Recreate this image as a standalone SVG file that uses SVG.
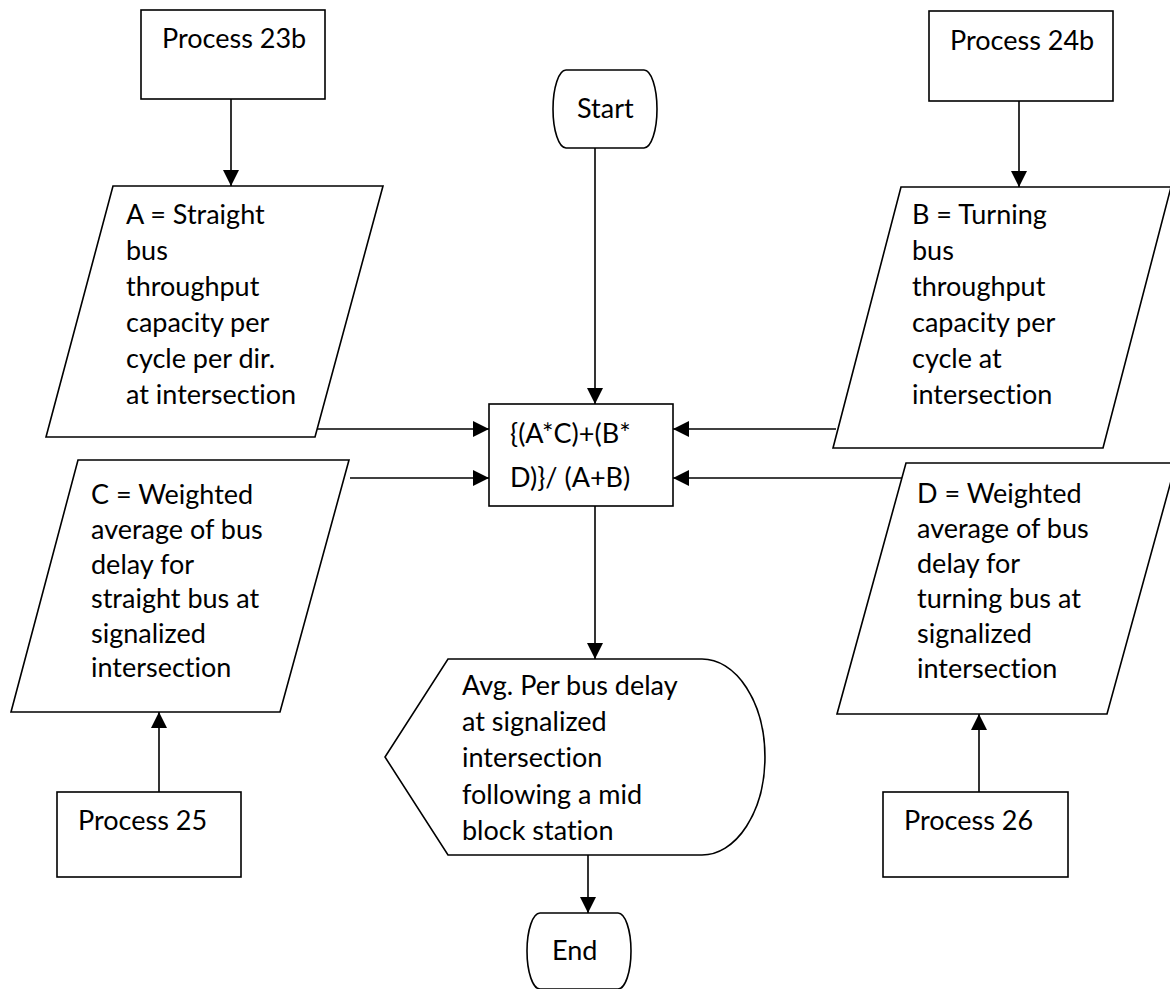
<svg xmlns="http://www.w3.org/2000/svg" width="1170" height="989" viewBox="0 0 1170 989">
  <style>
    .shape { fill: #ffffff; stroke: #000000; stroke-width: 1.6; }
    .link { fill: none; stroke: #000000; stroke-width: 1.6; marker-end: url(#arrow); }
    .label { font-family: Lato, "Liberation Sans", sans-serif; font-size: 27px; fill: #000000; font-variant-ligatures: none; }
  </style>
  <defs>
    <marker id="arrow" markerUnits="userSpaceOnUse" markerWidth="16" markerHeight="16" viewBox="0 0 16 16" refX="16" refY="8" orient="auto">
      <path d="M0,0 L16,8 L0,16 Z" fill="#000000"/>
    </marker>
  </defs>
  <rect width="1170" height="989" fill="#ffffff"/>

  <!-- connectors -->
  <g id="connectors">
    <line class="link" x1="231" y1="99" x2="231" y2="186"/>
    <line class="link" x1="1019" y1="101" x2="1019" y2="187"/>
    <line class="link" x1="595" y1="148" x2="595" y2="404"/>
    <line class="link" x1="315" y1="429" x2="489" y2="429"/>
    <line class="link" x1="350" y1="478" x2="489" y2="478"/>
    <line class="link" x1="836" y1="429" x2="673" y2="429"/>
    <line class="link" x1="902" y1="478" x2="673" y2="478"/>
    <line class="link" x1="595" y1="506" x2="595" y2="659"/>
    <line class="link" x1="588" y1="855" x2="588" y2="913"/>
    <line class="link" x1="159" y1="792" x2="159" y2="712"/>
    <line class="link" x1="979" y1="792" x2="979" y2="714"/>
  </g>

  <!-- process boxes -->
  <g id="process-23b">
    <rect class="shape" x="141" y="10" width="184" height="89"/>
    <text class="label" x="162" y="48">Process 23b</text>
  </g>
  <g id="process-24b">
    <rect class="shape" x="929" y="11" width="184" height="90"/>
    <text class="label" x="950" y="50">Process 24b</text>
  </g>
  <g id="process-25">
    <rect class="shape" x="57" y="792" width="184" height="85"/>
    <text class="label" x="78" y="830">Process 25</text>
  </g>
  <g id="process-26">
    <rect class="shape" x="883" y="792" width="185" height="85"/>
    <text class="label" x="904" y="830">Process 26</text>
  </g>

  <!-- terminators -->
  <g id="start">
    <path class="shape" d="M566,70 H644 A13,39 0 0 1 644,148 H566 A13,39 0 0 1 566,70 Z"/>
    <text class="label" x="577" y="118">Start</text>
  </g>
  <g id="end">
    <path class="shape" d="M540,913 H618 A13,38 0 0 1 618,989 H540 A13,38 0 0 1 540,913 Z"/>
    <text class="label" x="552" y="960">End</text>
  </g>

  <!-- data inputs -->
  <g id="input-a">
    <polygon class="shape" points="113,186 383,186 315,437 46,437"/>
    <text class="label" x="126" y="224">A = Straight</text>
    <text class="label" x="126" y="260">bus</text>
    <text class="label" x="126" y="296">throughput</text>
    <text class="label" x="126" y="332">capacity per</text>
    <text class="label" x="126" y="368">cycle per dir.</text>
    <text class="label" x="126" y="404">at intersection</text>
  </g>
  <g id="input-b">
    <polygon class="shape" points="901,187 1171,187 1103,448 833,448"/>
    <text class="label" x="912" y="224">B = Turning</text>
    <text class="label" x="912" y="260">bus</text>
    <text class="label" x="912" y="296">throughput</text>
    <text class="label" x="912" y="332">capacity per</text>
    <text class="label" x="912" y="368">cycle at</text>
    <text class="label" x="912" y="404">intersection</text>
  </g>
  <g id="input-c">
    <polygon class="shape" points="78,460 349,460 280,712 11,712"/>
    <text class="label" x="91" y="504">C = Weighted</text>
    <text class="label" x="91" y="539">average of bus</text>
    <text class="label" x="91" y="574">delay for</text>
    <text class="label" x="91" y="608">straight bus at</text>
    <text class="label" x="91" y="643">signalized</text>
    <text class="label" x="91" y="677">intersection</text>
  </g>
  <g id="input-d">
    <polygon class="shape" points="906,463 1176,463 1107,714 837,714"/>
    <text class="label" x="917" y="503">D = Weighted</text>
    <text class="label" x="917" y="538">average of bus</text>
    <text class="label" x="917" y="573">delay for</text>
    <text class="label" x="917" y="608">turning bus at</text>
    <text class="label" x="917" y="643">signalized</text>
    <text class="label" x="917" y="678">intersection</text>
  </g>

  <!-- calculation -->
  <g id="formula">
    <rect class="shape" x="489" y="404" width="184" height="102"/>
    <text class="label" x="510" y="443">{(A*C)+(B*</text>
    <text class="label" x="510" y="487">D)}/ (A+B)</text>
  </g>

  <!-- output display -->
  <g id="output">
    <path class="shape" d="M448,659 H702 A63,98 0 0 1 702,855 H448 L385,757 Z"/>
    <text class="label" x="462" y="695">Avg. Per bus delay</text>
    <text class="label" x="462" y="731">at signalized</text>
    <text class="label" x="462" y="767">intersection</text>
    <text class="label" x="462" y="804">following a mid</text>
    <text class="label" x="462" y="840">block station</text>
  </g>
</svg>
